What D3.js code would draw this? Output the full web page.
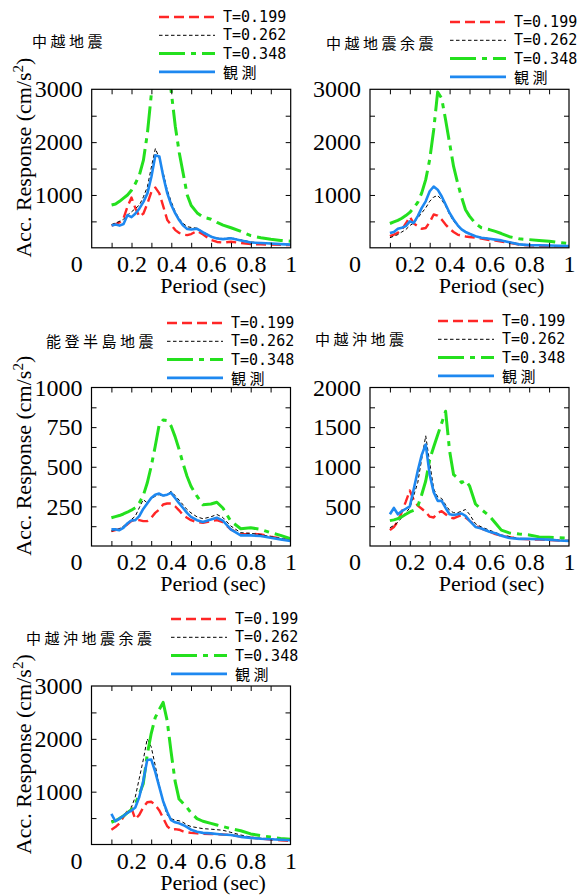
<!DOCTYPE html>
<html>
<head>
<meta charset="utf-8">
<script src="https://cdn.jsdelivr.net/npm/d3@7"></script>
<style>
  body { margin: 0; background: #fff; }
  svg { display: block; }
  .serif { font-family: "Liberation Serif", "Times New Roman", Times, "DejaVu Serif", serif; }
  .jp { font-family: "Noto Sans CJK JP", "Noto Sans CJK SC", sans-serif; }
  .mono { font-family: "DejaVu Sans Mono", "Liberation Mono", monospace; }
</style>
</head>
<body>
<svg id="chart" width="581" height="895"></svg>
<script>
// periods (sec) shared by every curve
const periods = [0.10, 0.12, 0.14, 0.16, 0.18, 0.20, 0.22, 0.24, 0.26, 0.28,
                 0.30, 0.32, 0.34, 0.36, 0.38, 0.40, 0.42, 0.44, 0.46, 0.48,
                 0.50, 0.53, 0.56, 0.60, 0.63, 0.66, 0.70, 0.75, 0.80, 0.85, 0.90, 0.95, 1.00];

const seriesNames = ['T=0.199', 'T=0.262', 'T=0.348', '観測'];

// 中越地震
const chuetsu199 = [420, 450, 480, 560, 780, 950, 745, 590, 650, 840, 1060, 1140, 1030, 780, 525, 430, 335, 280, 250, 240, 260, 320, 250, 150, 110, 100, 115, 90, 70, 65, 60, 55, 50];
const chuetsu262 = [440, 470, 500, 540, 620, 680, 745, 810, 966, 1155, 1530, 1880, 1690, 1410, 1090, 870, 680, 550, 460, 400, 385, 370, 300, 220, 185, 175, 190, 150, 110, 95, 85, 75, 65];
const chuetsu348 = [810, 830, 880, 940, 1000, 1090, 1220, 1380, 1660, 2170, 2920, 3600, 4000, 3900, 3500, 2950, 2300, 1800, 1400, 1000, 800, 660, 580, 540, 480, 430, 380, 310, 230, 190, 160, 140, 125];
const chuetsuObs = [420, 440, 420, 450, 620, 580, 650, 745, 870, 1030, 1345, 1750, 1730, 1345, 1030, 810, 650, 520, 420, 355, 345, 360, 290, 210, 175, 165, 180, 140, 100, 90, 80, 70, 60];

// 中越地震余震
const aftershock199 = [220, 250, 285, 345, 460, 585, 460, 410, 360, 375, 485, 630, 610, 535, 440, 360, 300, 250, 230, 215, 205, 190, 176, 145, 135, 120, 95, 63, 45, 38, 31, 31, 31];
const aftershock262 = [190, 220, 250, 300, 345, 420, 470, 565, 660, 755, 880, 960, 990, 910, 790, 630, 505, 410, 340, 290, 265, 225, 195, 175, 160, 145, 110, 70, 55, 50, 45, 40, 35];
const aftershock348 = [460, 490, 520, 560, 610, 670, 755, 860, 1040, 1290, 1670, 2230, 2950, 2830, 2420, 1980, 1540, 1230, 960, 720, 600, 460, 380, 345, 310, 270, 210, 170, 155, 140, 125, 100, 80];
const aftershockObs = [280, 300, 360, 380, 410, 500, 470, 600, 755, 880, 1070, 1160, 1100, 975, 820, 660, 535, 430, 350, 300, 265, 220, 190, 170, 155, 140, 107, 65, 50, 47, 44, 38, 31];

// 能登半島地震
const noto199 = [94, 100, 105, 120, 136, 157, 167, 163, 157, 157, 178, 209, 230, 262, 268, 268, 251, 225, 195, 178, 163, 151, 146, 157, 163, 150, 105, 73, 77, 73, 59, 48, 38];
const noto262 = [94, 100, 109, 125, 142, 167, 188, 241, 293, 272, 297, 314, 324, 314, 324, 345, 318, 290, 260, 230, 209, 184, 172, 184, 199, 180, 126, 84, 80, 72, 59, 48, 38];
const noto348 = [178, 185, 192, 202, 213, 226, 241, 272, 318, 397, 502, 628, 764, 795, 791, 757, 690, 610, 520, 440, 377, 314, 260, 265, 276, 240, 157, 109, 115, 105, 84, 67, 46];
const notoObs = [105, 105, 100, 115, 142, 161, 163, 188, 234, 268, 303, 324, 331, 318, 324, 335, 303, 270, 240, 209, 184, 163, 151, 167, 178, 160, 105, 67, 67, 63, 52, 42, 31];

// 中越沖地震
const oki199 = [200, 240, 310, 430, 560, 700, 580, 510, 470, 430, 370, 360, 420, 440, 400, 360, 350, 370, 390, 360, 320, 260, 220, 180, 150, 130, 110, 90, 85, 80, 75, 70, 65];
const oki262 = [230, 260, 300, 360, 420, 480, 640, 800, 1100, 1390, 1050, 720, 620, 600, 520, 450, 420, 420, 440, 460, 400, 280, 240, 200, 170, 140, 120, 95, 90, 85, 80, 75, 70];
const oki348 = [320, 330, 345, 370, 400, 430, 450, 500, 650, 820, 1090, 1250, 1400, 1550, 1700, 1200, 900, 860, 800, 830, 760, 530, 460, 380, 290, 200, 165, 150, 140, 115, 110, 105, 100];
const okiObs = [400, 480, 400, 440, 470, 500, 720, 950, 1150, 1280, 900, 680, 570, 570, 480, 400, 390, 400, 410, 380, 320, 240, 220, 180, 160, 130, 100, 90, 90, 85, 80, 70, 65];

// 中越沖地震余震
const okiAfter199 = [280, 330, 400, 520, 620, 700, 480, 560, 700, 800, 810, 750, 650, 500, 350, 280, 290, 280, 250, 230, 220, 210, 205, 200, 195, 190, 180, 150, 130, 110, 95, 80, 65];
const okiAfter262 = [450, 460, 480, 520, 600, 700, 900, 1250, 1600, 2000, 1850, 1500, 1130, 800, 560, 490, 460, 450, 420, 370, 340, 320, 300, 290, 280, 270, 230, 180, 140, 120, 105, 95, 85];
const okiAfter348 = [420, 450, 490, 540, 600, 660, 760, 950, 1150, 1700, 2100, 2400, 2550, 2690, 2350, 1750, 1200, 860, 780, 700, 600, 490, 440, 400, 370, 340, 300, 260, 200, 170, 140, 115, 100];
const okiAfterObs = [580, 440, 490, 540, 600, 640, 700, 900, 1200, 1600, 1610, 1380, 1100, 820, 620, 460, 420, 400, 370, 330, 280, 240, 220, 210, 200, 190, 180, 145, 125, 110, 100, 90, 80];

// tick labels
const xLabels = [0.2, 0.4, 0.6, 0.8, 1];
const yLabels3000 = [1000, 2000, 3000];
const yLabels2000 = [500, 1000, 1500, 2000];
const yLabels1000 = [250, 500, 750, 1000];

// line styles: red dashed, black fine dashed, green dash-dot, blue solid
const styles = [
  { color: '#ff2626', width: 2.4, dash: '10,5' },
  { color: '#000000', width: 1, dash: '3.5,2.5' },
  { color: '#24e01e', width: 3, dash: '26,6,5,6' },
  { color: '#1e88f0', width: 2.6, dash: null }
];

const plotW = 199, plotH = 158.5;

const panels = [
  { title: '中越地震', series: [chuetsu199, chuetsu262, chuetsu348, chuetsuObs],
    yMax: 3000, yLabels: yLabels3000, yStep: 500, yTitle: true,
    left: 91.7, top: 89.3, titleX: 32, titleY: 40, legX: 159, legY: 17 },
  { title: '中越地震余震', series: [aftershock199, aftershock262, aftershock348, aftershockObs],
    yMax: 3000, yLabels: yLabels3000, yStep: 500, yTitle: false,
    left: 370, top: 89.3, titleX: 326, titleY: 42, legX: 450, legY: 22 },
  { title: '能登半島地震', series: [noto199, noto262, noto348, notoObs],
    yMax: 1000, yLabels: yLabels1000, yStep: 125, yTitle: true,
    left: 91.5, top: 387.5, titleX: 46, titleY: 340, legX: 167, legY: 323 },
  { title: '中越沖地震', series: [oki199, oki262, oki348, okiObs],
    yMax: 2000, yLabels: yLabels2000, yStep: 250, yTitle: false,
    left: 370, top: 387.5, titleX: 315, titleY: 338, legX: 438, legY: 321 },
  { title: '中越沖地震余震', series: [okiAfter199, okiAfter262, okiAfter348, okiAfterObs],
    yMax: 3000, yLabels: yLabels3000, yStep: 500, yTitle: true,
    left: 91.5, top: 686, titleX: 26, titleY: 637, legX: 171, legY: 619 }
];

const svg = d3.select('#chart');

panels.forEach((p, pi) => {
  const x = d3.scaleLinear().domain([0, 1]).range([0, plotW]);
  const y = d3.scaleLinear().domain([0, p.yMax]).range([plotH, 0]);

  const g = svg.append('g').attr('transform', `translate(${p.left},${p.top})`);

  // clip so the curves stay inside the frame
  svg.append('clipPath').attr('id', 'clip' + pi)
    .append('rect').attr('width', plotW).attr('height', plotH);

  // curves
  const line = d3.line().x((d, i) => x(periods[i])).y(d => y(d));
  const curves = g.append('g').attr('clip-path', `url(#clip${pi})`);
  p.series.forEach((vals, si) => {
    const s = styles[si];
    curves.append('path')
      .datum(vals)
      .attr('d', line)
      .attr('fill', 'none')
      .attr('stroke', s.color)
      .attr('stroke-width', s.width)
      .attr('stroke-dasharray', s.dash)
      .attr('stroke-linejoin', 'round');
  });

  // inward ticks on all four sides
  const xTicks = d3.range(1, 10).map(d => d / 10);
  const yTicks = d3.range(p.yStep, p.yMax, p.yStep);
  const tickAxes = [
    [d3.axisBottom(x).tickValues(xTicks), `translate(0,${plotH})`],
    [d3.axisTop(x).tickValues(xTicks), 'translate(0,0)'],
    [d3.axisLeft(y).tickValues(yTicks), 'translate(0,0)'],
    [d3.axisRight(y).tickValues(yTicks), `translate(${plotW},0)`]
  ];
  tickAxes.forEach(([ax, tr]) => {
    const a = g.append('g').attr('transform', tr)
      .call(ax.tickSize(-5).tickFormat(''));
    a.select('.domain').remove();
    a.selectAll('line').attr('stroke', '#000');
  });

  // frame
  g.append('rect')
    .attr('width', plotW).attr('height', plotH)
    .attr('fill', 'none').attr('stroke', '#000').attr('stroke-width', 1.2);

  // tick labels
  const xl = g.append('g').attr('transform', `translate(0,${plotH})`)
    .call(d3.axisBottom(x).tickValues(xLabels).tickSize(0).tickPadding(7).tickFormat(d3.format('~g')));
  xl.attr('font-family', null).attr('font-size', null).attr('class', 'serif').style('font-size', '24px');
  xl.select('.domain').remove();

  const yl = g.append('g')
    .call(d3.axisLeft(y).tickValues(p.yLabels).tickSize(0).tickPadding(9).tickFormat(d3.format('d')));
  yl.attr('font-family', null).attr('font-size', null).attr('class', 'serif').style('font-size', '24px');
  yl.select('.domain').remove();

  g.append('text')
    .attr('class', 'serif')
    .attr('x', -9).attr('y', plotH + 24)
    .attr('text-anchor', 'end')
    .style('font-size', '24px')
    .text('0');

  // axis titles
  g.append('text')
    .attr('class', 'serif')
    .attr('x', plotW / 2 + 22).attr('y', plotH + 45)
    .attr('text-anchor', 'middle')
    .style('font-size', '22px')
    .text('Period (sec)');

  if (p.yTitle) {
    const t = g.append('text')
      .attr('class', 'serif')
      .attr('transform', `translate(-60.5,${plotH / 2 - 11}) rotate(-90)`)
      .attr('text-anchor', 'middle')
      .style('font-size', '22px');
    t.append('tspan').text('Acc. Response (cm/s');
    t.append('tspan').attr('dy', -8).style('font-size', '15px').text('2');
    t.append('tspan').attr('dy', 8).text(')');
  }

  // panel title
  svg.append('text')
    .attr('class', 'jp')
    .attr('x', p.titleX).attr('y', p.titleY)
    .attr('dominant-baseline', 'central')
    .style('font-size', '15px')
    .attr('letter-spacing', 3.5)
    .text(p.title);

  // legend
  seriesNames.forEach((name, si) => {
    const s = styles[si];
    const ly = p.legY + si * 18.3;
    svg.append('line')
      .attr('x1', p.legX).attr('x2', p.legX + 56)
      .attr('y1', ly).attr('y2', ly)
      .attr('stroke', s.color)
      .attr('stroke-width', s.width)
      .attr('stroke-dasharray', s.dash);
    const isJp = si === 3;
    svg.append('text')
      .attr('class', isJp ? 'jp' : 'mono')
      .attr('x', p.legX + 64).attr('y', ly)
      .attr('dominant-baseline', 'central')
      .style('font-size', '15px')
      .attr('letter-spacing', isJp ? 3.5 : 0)
      .text(name);
  });
});
</script>
</body>
</html>
